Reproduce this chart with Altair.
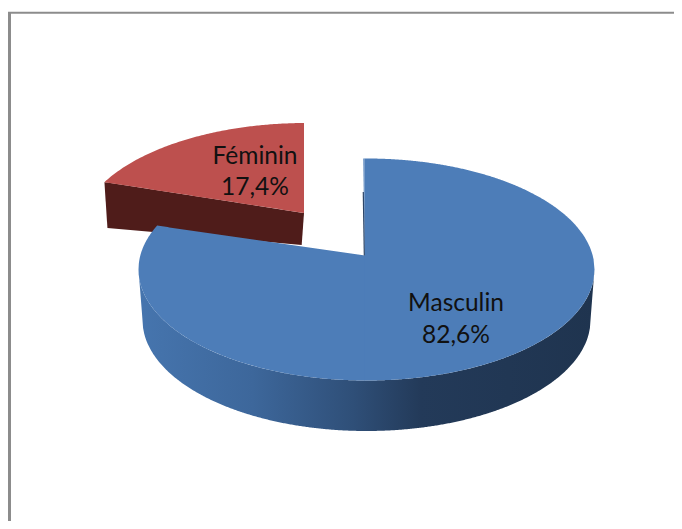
import numpy as np
import pandas as pd
import altair as alt

categories = ["Masculin", "Féminin"]
shares = [82.6, 17.4]
top_colors = ["#4d7db8", "#bd504e"]
red_side_color = "#4f1c1a"

W, H = 674, 521
X = alt.Scale(domain=[8, W], range=[0, W - 8], nice=False, zero=False)
Y = alt.Scale(domain=[8, H], range=[0, H - 8], nice=False, zero=False)


def half(x, cx, rx, ry):
    return ry * np.sqrt(np.clip(1 - ((x - cx) / rx) ** 2, 0, 1))


def band(x, y, y2, fill):
    df = pd.DataFrame({"x": np.asarray(x, float), "yt": np.asarray(y, float), "yb": np.asarray(y2, float)})
    return alt.Chart(df).mark_area(fill=fill, opacity=1, interpolate="linear").encode(
        x=alt.X("x:Q", scale=X, axis=None),
        y=alt.Y("yt:Q", scale=Y, axis=None, stack=False),
        y2=alt.Y2("yb:Q"),
    )


def straight(x, y, color, width):
    df = pd.DataFrame({"x": x, "y": y, "o": range(len(x))})
    return alt.Chart(df).mark_line(color=color, strokeWidth=width, clip=True).encode(
        x=alt.X("x:Q", scale=X, axis=None),
        y=alt.Y("y:Q", scale=Y, axis=None),
        order="o:Q",
    )


# ---- ellipse geometry; sector corners follow from the shares ----
RX, RY = 228.0, 111.0
BCX, BCY = 366.5, 269.5      # Masculin top ellipse
RCX, RCY = 306.0, 234.0      # Féminin top ellipse
BAX, BAY = 364.5, 255.5      # Masculin apex
RAX, RAY = 304.0, 213.0      # Féminin apex
DEPTH_RX, DEPTH_CY, DEPTH_RY = 224.0, 320.0, 111.0

# Féminin
r_sweep = np.radians(shares[1] * 3.6)
r_tip_x = RCX - RX * np.sin(r_sweep - np.radians(0.5))
r_tip_y = RCY - RY * np.cos(r_sweep - np.radians(0.5))
rx_top = np.linspace(r_tip_x, RAX, 120)
red_top = band(
    rx_top,
    RCY - half(rx_top, RCX, RX, RY),
    r_tip_y + (rx_top - r_tip_x) * (RAY - r_tip_y) / (RAX - r_tip_x),
    top_colors[1],
)
red_x = [r_tip_x, r_tip_x + 3, RAX - 2.3, RAX]
red_up = [r_tip_y, r_tip_y + 3 * (RAY - r_tip_y) / (RAX - r_tip_x),
          RAY - 2.3 * (RAY - r_tip_y) / (RAX - r_tip_x), RAY]
red_lo = [r_tip_y, 228, 245, RAY]
red_side = band(red_x, red_up, red_lo, red_side_color)

# Masculin
b_start = np.radians(-0.8)
b_end = b_start + np.radians(shares[0] * 3.6 * 0.989)
b_tip_x = BCX + RX * np.sin(b_end)
b_tip_y = BCY - RY * np.cos(b_end)
b_start_x = BCX + RX * np.sin(b_start)

left_x = np.sort(np.r_[np.linspace(BCX - RX, b_tip_x, 60), np.linspace(b_tip_x, BAX + 0.5, 120)])
left_up = np.where(
    left_x <= b_tip_x,
    BCY - half(left_x, BCX, RX, RY),
    b_tip_y + (left_x - b_tip_x) * (BAY - b_tip_y) / (BAX - b_tip_x),
)
blue_left = band(left_x, left_up, BCY + half(left_x, BCX, RX, RY), top_colors[0])

right_x = np.linspace(BAX, BCX + RX, 240)
blue_right = band(right_x, BCY - half(right_x, BCX, RX, RY), BCY + half(right_x, BCX, RX, RY), top_colors[0])

sl_x = np.array([b_start_x, BAX])
blue_sliver = band(sl_x, BCY - half(sl_x, BCX, RX, RY), [BCY - half(b_start_x, BCX, RX, RY), BAY], top_colors[0])
inner_edge = straight([BAX - 1.2, BAX - 0.2], [192, BAY], "#2d4668", 1.2)

side_x = np.linspace(BCX - RX, BCX + RX, 400)
side_lo = np.where(
    np.abs(side_x - BCX) < DEPTH_RX,
    DEPTH_CY + half(side_x, BCX, DEPTH_RX, DEPTH_RY),
    BCY + (np.abs(side_x - BCX) - RX) / (DEPTH_RX - RX) * (DEPTH_CY - BCY),
)
side_fill = alt.Gradient(
    gradient="linear", x1=0, y1=0, x2=1, y2=0,
    stops=[
        alt.GradientStop(offset=0.0, color="#4675ae"),
        alt.GradientStop(offset=0.25, color="#3d679b"),
        alt.GradientStop(offset=0.47, color="#2f4f78"),
        alt.GradientStop(offset=0.62, color="#233a59"),
        alt.GradientStop(offset=1.0, color="#1f344f"),
    ],
)
blue_side = band(side_x, BCY + half(side_x, BCX, RX, RY), side_lo, side_fill)

# ---- labels ----
pct = [f"{v:.1f}".replace(".", ",") + "%" for v in shares]
labels = pd.DataFrame({
    "t": [categories[0], pct[0], categories[1], pct[1]],
    "x": [456, 456, 255, 255],
    "y": [304, 336, 157, 188],
})
text = alt.Chart(labels).mark_text(
    font="Lato", fontSize=24.5, color="#111111", baseline="middle", align="center"
).encode(
    x=alt.X("x:Q", scale=X, axis=None),
    y=alt.Y("y:Q", scale=Y, axis=None),
    text="t:N",
)

frame = (
    straight([9.5, 9.5], [12, H], "#8c8c8c", 3)
    + straight([8, W], [12.7, 12.7], "#8c8c8c", 2)
)

chart = alt.layer(
    frame, red_side, red_top, blue_side, blue_left, blue_right, blue_sliver, inner_edge, text
).properties(
    width=W - 8, height=H - 8, padding=0, background="white"
).configure_view(stroke=None)

chart.save("out.html", embed_options={"renderer": "svg", "actions": False})
